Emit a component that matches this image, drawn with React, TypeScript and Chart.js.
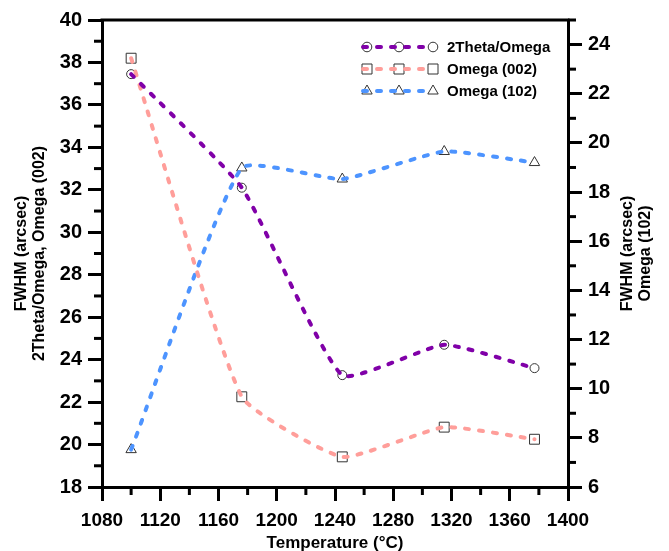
import React, { useEffect, useRef } from 'react';
import { Chart, registerables } from 'chart.js';

Chart.register(...registerables);

// ---- data ----
const temperatures = [1100, 1176, 1245, 1315, 1377];
const thetaOmega = [37.45, 32.1, 23.27, 24.7, 23.6];
const omega002 = [38.2, 22.25, 19.42, 20.82, 20.25];
const omega102 = [7.52, 18.98, 18.53, 19.65, 19.2];

const seriesNames = ['2Theta/Omega', 'Omega (002)', 'Omega (102)'];
const seriesColors = ['#8000a8', '#ff9e9a', '#4d94ff'];
const seriesMarkers = ['circle', 'rect', 'triangle'];

const xTicks = [1080, 1120, 1160, 1200, 1240, 1280, 1320, 1360, 1400];
const leftTicks = [18, 20, 22, 24, 26, 28, 30, 32, 34, 36, 38, 40];
const rightTicks = [6, 8, 10, 12, 14, 16, 18, 20, 22, 24];

const xTitle = 'Temperature (°C)';
const leftTitle = ['FWHM (arcsec)', '2Theta/Omega, Omega (002)'];
const rightTitle = ['FWHM (arcsec)', 'Omega (102)'];

const FONT = '"Liberation Sans", Arial, sans-serif';

function drawMarker(ctx: CanvasRenderingContext2D, style: string, x: number, y: number) {
  ctx.save();
  ctx.lineWidth = 1;
  ctx.strokeStyle = '#333';
  ctx.beginPath();
  if (style === 'circle') {
    ctx.arc(x, y, 4.8, 0, Math.PI * 2);
  } else if (style === 'rect') {
    ctx.rect(x - 5, y - 5, 10, 10);
  } else {
    const r = 6;
    ctx.moveTo(x, y - r);
    ctx.lineTo(x + r * 0.866, y + r * 0.5);
    ctx.lineTo(x - r * 0.866, y + r * 0.5);
    ctx.closePath();
  }
  ctx.stroke();
  ctx.restore();
}

function tickLine(ctx: CanvasRenderingContext2D, x1: number, y1: number, x2: number, y2: number) {
  ctx.fillStyle = '#000';
  ctx.fillRect(Math.min(x1, x2), Math.min(y1, y2), Math.abs(x2 - x1) || 3, Math.abs(y2 - y1) || 3);
}

const decorPlugin = {
  id: 'decor',
  afterDraw(chart: any) {
    const ctx: CanvasRenderingContext2D = chart.ctx;
    const area = chart.chartArea;
    const sx = chart.scales.x;
    const sy = chart.scales.y;
    const sy1 = chart.scales.y1;
    ctx.save();
    ctx.setLineDash([]);
    // top frame line
    ctx.fillStyle = '#000';
    ctx.fillRect(area.left - 1.5, area.top - 1.5, area.right - area.left + 3, 3);

    // minor ticks
    const minorLen = 8;
    for (let i = 0; i < xTicks.length - 1; i++) {
      const v = (xTicks[i] + xTicks[i + 1]) / 2;
      const px = sx.getPixelForValue(v);
      tickLine(ctx, px - 1.5, area.bottom, px + 1.5, area.bottom + minorLen);
    }
    for (let i = 0; i < leftTicks.length - 1; i++) {
      const v = (leftTicks[i] + leftTicks[i + 1]) / 2;
      const py = sy.getPixelForValue(v);
      tickLine(ctx, area.left - minorLen, py - 1.5, area.left, py + 1.5);
    }
    for (let i = 0; i < rightTicks.length; i++) {
      const v = rightTicks[i] + 1;
      if (v > sy1.max) continue;
      const py = sy1.getPixelForValue(v);
      tickLine(ctx, area.right, py - 1.5, area.right + minorLen, py + 1.5);
    }

    // axis titles
    ctx.fillStyle = '#000';
    ctx.textAlign = 'center';
    ctx.textBaseline = 'middle';
    ctx.font = `bold 17px ${FONT}`;
    ctx.fillText(xTitle, (area.left + area.right) / 2, 543);

    ctx.font = `bold 16px ${FONT}`;
    const midY = (area.top + area.bottom) / 2;
    const leftX = [22, 40];
    leftTitle.forEach((t, i) => {
      ctx.save();
      ctx.translate(leftX[i], midY);
      ctx.rotate(-Math.PI / 2);
      ctx.fillText(t, 0, 0);
      ctx.restore();
    });
    const rightX = [628, 646];
    rightTitle.forEach((t, i) => {
      ctx.save();
      ctx.translate(rightX[i], midY);
      ctx.rotate(-Math.PI / 2);
      ctx.fillText(t, 0, 0);
      ctx.restore();
    });

    // legend
    const rowsY = [47, 69, 91];
    const markX = [367, 399, 433];
    ctx.font = `bold 15px ${FONT}`;
    ctx.textAlign = 'left';
    seriesNames.forEach((name, i) => {
      const y = rowsY[i];
      markX.forEach((mx) => drawMarker(ctx, seriesMarkers[i], mx, y));
      ctx.save();
      ctx.strokeStyle = seriesColors[i];
      ctx.lineWidth = 4;
      ctx.lineCap = 'round';
      ctx.setLineDash([4, 10]);
      ctx.beginPath();
      ctx.moveTo(363, y);
      ctx.lineTo(433, y);
      ctx.stroke();
      ctx.restore();
      ctx.fillStyle = '#000';
      ctx.fillText(name, 447, y + 1);
    });
    ctx.restore();
  },
};

export default function App() {
  const ref = useRef<HTMLCanvasElement>(null);

  useEffect(() => {
    if (!ref.current) return;
    const pts = (ys: number[]) => temperatures.map((t, i) => ({ x: t, y: ys[i] }));
    const seriesData = [pts(thetaOmega), pts(omega002), pts(omega102)];
    const axisIds = ['y', 'y', 'y1'];

    const lineSets = seriesData.map((d, i) => ({
      label: seriesNames[i],
      data: d,
      yAxisID: axisIds[i],
      borderColor: seriesColors[i],
      backgroundColor: seriesColors[i],
      borderWidth: 4,
      borderDash: [4, 10],
      borderCapStyle: 'round' as const,
      tension: 0.15,
      pointRadius: 0,
      fill: false,
      order: 1,
    }));
    const markerSets = seriesData.map((d, i) => ({
      label: seriesNames[i] + ' markers',
      data: d,
      yAxisID: axisIds[i],
      showLine: false,
      pointStyle: seriesMarkers[i],
      pointRadius: seriesMarkers[i] === 'circle' ? 4.5 : seriesMarkers[i] === 'rect' ? 7 : 6,
      pointBorderColor: '#333',
      pointBackgroundColor: 'rgba(0,0,0,0)',
      pointBorderWidth: 1,
      order: 2,
    }));

    const xFont = { family: FONT, size: 19, weight: 'bold' as const };
    const yFont = { family: FONT, size: 20, weight: 'bold' as const };
    const grid = {
      drawOnChartArea: false,
      drawTicks: true,
      tickLength: 14,
      tickWidth: 3,
      tickColor: '#000',
      color: '#000',
      lineWidth: 3,
    };
    const border = { display: true, width: 3, color: '#000' };
    const fmt = (v: any) => String(v);

    const chart = new Chart(ref.current, {
      type: 'line',
      data: { datasets: [...markerSets, ...lineSets] as any },
      options: {
        responsive: false,
        animation: false,
        layout: { padding: { top: 20, left: 0, right: 0, bottom: 0 } },
        plugins: { legend: { display: false }, tooltip: { enabled: false } },
        scales: {
          x: {
            type: 'linear',
            min: 1080,
            max: 1400,
            grid,
            border,
            ticks: { font: xFont, color: '#000', padding: 8, maxRotation: 0, callback: fmt },
            afterBuildTicks: (s: any) => { s.ticks = xTicks.map((v) => ({ value: v })); },
            afterFit: (s: any) => { s.height = 64; },
          },
          y: {
            type: 'linear',
            position: 'left',
            min: 18,
            max: 40,
            grid,
            border,
            ticks: { font: yFont, color: '#000', padding: 6, callback: fmt },
            afterBuildTicks: (s: any) => { s.ticks = leftTicks.map((v) => ({ value: v })); },
            afterFit: (s: any) => { s.width = 102; },
          },
          y1: {
            type: 'linear',
            position: 'right',
            min: 6,
            max: 25,
            grid,
            border,
            ticks: { font: yFont, color: '#000', padding: 6, callback: fmt },
            afterBuildTicks: (s: any) => { s.ticks = rightTicks.map((v) => ({ value: v })); },
            afterFit: (s: any) => { s.width = 101; },
          },
        },
      },
      plugins: [decorPlugin],
    });
    return () => chart.destroy();
  }, []);

  return (
    <div style={{ position: 'fixed', left: 0, top: 0, width: 669, height: 551, background: '#fff' }}>
      <canvas ref={ref} width={669} height={551} />
    </div>
  );
}
